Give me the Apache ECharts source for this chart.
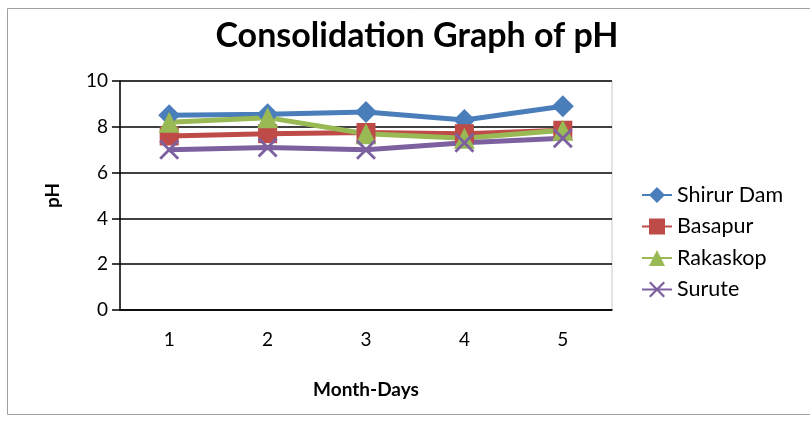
<!DOCTYPE html>
<html><head><meta charset="utf-8">
<script src="https://cdn.jsdelivr.net/npm/echarts@6/dist/echarts.min.js"></script>
<style>html,body{margin:0;padding:0;background:#fff}#c{width:810px;height:421px}</style>
</head><body><div id="c"></div>
<script>
const categories = ['1','2','3','4','5'];
const shirurDam = [8.5, 8.55, 8.65, 8.3, 8.9];
const basapur = [7.6, 7.7, 7.75, 7.7, 7.85];
const rakaskop = [8.2, 8.4, 7.7, 7.5, 7.85];
const surute = [7.0, 7.1, 7.0, 7.3, 7.5];
const seriesNames = ['Shirur Dam','Basapur','Rakaskop','Surute'];

const font = 'Lato, "Open Sans", sans-serif';
const xSym = 'path://M0,1L1,0L5,4L9,0L10,1L6,5L10,9L9,10L5,6L1,10L0,9L4,5Z';
const chart = echarts.init(document.getElementById('c'));
function mk(name, data, color, symbol, size){
  return {name, type:'line', data, symbol, symbolSize:size, showSymbol:true,
    lineStyle:{width:5,color}, itemStyle:{color}, animation:false};
}
chart.setOption({
  animation:false,
  graphic:[{type:'rect', shape:{x:7.5,y:8.5,width:810,height:406}, style:{fill:'none',stroke:'#a0a0a0',lineWidth:1}, silent:true}],
  title:{text:'Consolidation Graph of pH', left:412, top:14, textAlign:'center',
    textStyle:{fontFamily:font,fontWeight:'bold',fontSize:34,color:'#000'}},
  legend:{orient:'vertical', left:636, top:179, itemGap:9.5, itemWidth:30, itemHeight:20,
    textStyle:{fontFamily:font,fontSize:21.5,color:'#000'},
    data:seriesNames},
  grid:{left:120, right:198, top:81, bottom:111, show:true, borderColor:'#c8c8c8', borderWidth:1},
  xAxis:{type:'category', data:categories, boundaryGap:true,
    name:'Month-Days', nameLocation:'middle', nameGap:70,
    nameTextStyle:{fontFamily:font,fontWeight:'bold',fontSize:19,color:'#000'},
    axisLine:{lineStyle:{color:'#000',width:1.5}}, axisTick:{show:false},
    axisLabel:{fontFamily:font,fontSize:19,color:'#000',margin:20}},
  yAxis:{type:'value', min:0, max:10, interval:2,
    name:'pH', nameLocation:'middle', nameGap:58, nameRotate:90,
    nameTextStyle:{fontFamily:font,fontWeight:'bold',fontSize:19,color:'#000'},
    axisLine:{show:true,lineStyle:{color:'#000',width:1.5}},
    axisTick:{show:true,length:8,lineStyle:{color:'#000',width:1.5}},
    splitLine:{lineStyle:{color:'#000',width:1.5}},
    axisLabel:{fontFamily:font,fontSize:19,color:'#000',margin:12}},
  series:[
    mk('Shirur Dam', shirurDam, '#4A7EBB', 'diamond', 22),
    mk('Basapur', basapur, '#BE4B48', 'rect', 19),
    mk('Rakaskop', rakaskop, '#98B954', 'triangle', 21),
    mk('Surute', surute, '#7D60A0', xSym, 20)
  ]
});
</script></body></html>
